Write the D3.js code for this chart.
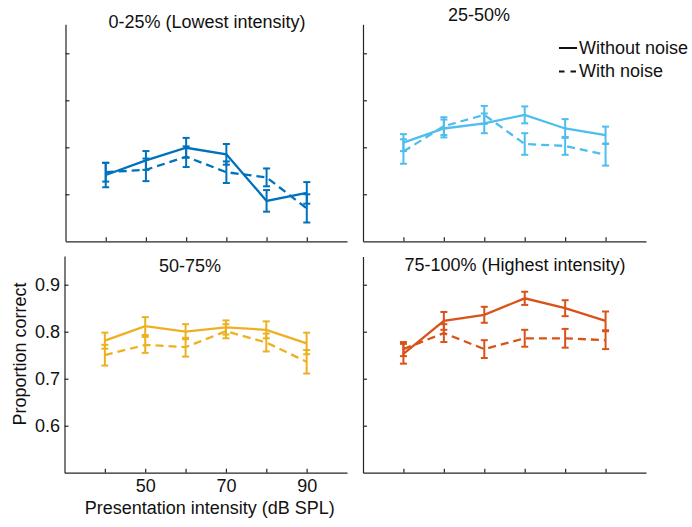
<!DOCTYPE html>
<html>
<head>
<meta charset="utf-8">
<script src="https://cdn.jsdelivr.net/npm/d3@7"></script>
<style>
  body { margin: 0; background: #fff; }
  text { font-family: "Liberation Sans", Arial, Helvetica, sans-serif; }
</style>
</head>
<body>
<svg id="chart" width="692" height="527"></svg>
<script>
// intensities (dB SPL) on the x axis
const intensities = [40, 50, 60, 70, 80, 90];
const xLabelTicks = [50, 70, 90];
const yTicks = [0.6, 0.7, 0.8, 0.9];

// quartile titles
const titles = ["0-25% (Lowest intensity)", "25-50%", "50-75%", "75-100% (Highest intensity)"];

// proportion correct, without noise / with noise, and error bars
const q1Without    = [0.641, 0.672, 0.699, 0.685, 0.586, 0.603];
const q1WithoutErr = [0.026, 0.020, 0.021, 0.022, 0.023, 0.023];
const q1With       = [0.647, 0.652, 0.680, 0.647, 0.636, 0.570];
const q1WithErr    = [0.020, 0.024, 0.022, 0.023, 0.019, 0.030];

const q2Without    = [0.710, 0.740, 0.751, 0.769, 0.740, 0.726];
const q2WithoutErr = [0.018, 0.019, 0.021, 0.018, 0.020, 0.018];
const q2With       = [0.691, 0.745, 0.769, 0.707, 0.703, 0.684];
const q2WithErr    = [0.026, 0.019, 0.019, 0.023, 0.019, 0.023];

const q3Without    = [0.781, 0.812, 0.800, 0.809, 0.804, 0.775];
const q3WithoutErr = [0.017, 0.019, 0.016, 0.015, 0.018, 0.023];
const q3With       = [0.750, 0.772, 0.767, 0.801, 0.777, 0.736];
const q3WithErr    = [0.022, 0.017, 0.020, 0.015, 0.019, 0.025];

const q4Without    = [0.753, 0.823, 0.836, 0.871, 0.850, 0.823];
const q4WithoutErr = [0.021, 0.019, 0.017, 0.014, 0.017, 0.020];
const q4With       = [0.763, 0.797, 0.763, 0.786, 0.786, 0.782];
const q4WithErr    = [0.015, 0.019, 0.019, 0.018, 0.020, 0.019];

const legendLabels = ["Without noise", "With noise"];

const colors = ["#0072BD", "#4DBEEE", "#EDB120", "#D95319"];
const axisColor = "#262626";
const fontSize = 18;

// panel layout (pixels)
const panels = [
  { left: 65.5, right: 347, top: 24.3, bottom: 241.3, titleX: 207, titleY: 28, labels: false,
    without: q1Without, withoutErr: q1WithoutErr, withN: q1With, withErr: q1WithErr },
  { left: 363, right: 646, top: 24.3, bottom: 241.3, titleX: 479, titleY: 20.5, labels: false, legend: true,
    without: q2Without, withoutErr: q2WithoutErr, withN: q2With, withErr: q2WithErr },
  { left: 64.5, right: 347, top: 256, bottom: 472.7, titleX: 190, titleY: 271.5, labels: true,
    without: q3Without, withoutErr: q3WithoutErr, withN: q3With, withErr: q3WithErr },
  { left: 363, right: 646, top: 256.5, bottom: 472.7, titleX: 515, titleY: 270.5, labels: false,
    without: q4Without, withoutErr: q4WithoutErr, withN: q4With, withErr: q4WithErr }
];

const svg = d3.select("#chart");

panels.forEach((p, i) => {
  let color = colors[i];
  let g = svg.append("g");

  let xScale = d3.scaleLinear().domain([30, 100]).range([p.left, p.right]);
  let yScale = d3.scaleLinear()
    .domain([0.5, 0.5 + (p.bottom - p.top) / 470])
    .range([p.bottom, p.top]);

  // axes, MATLAB style: ticks pointing in, no box
  let xAxis = d3.axisBottom(xScale)
    .tickValues(intensities)
    .tickSize(-4)
    .tickSizeOuter(0)
    .tickPadding(6.5)
    .tickFormat(d => p.labels && xLabelTicks.includes(d) ? d : "");

  let yAxis = d3.axisLeft(yScale)
    .tickValues(yTicks)
    .tickSize(-4)
    .tickSizeOuter(0)
    .tickPadding(4.5)
    .tickFormat(d => p.labels ? d3.format(".1f")(d) : "");

  let gx = g.append("g")
    .attr("transform", `translate(0,${p.bottom})`)
    .call(xAxis);
  let gy = g.append("g")
    .attr("transform", `translate(${p.left},0)`)
    .call(yAxis);

  [gx, gy].forEach(a => {
    a.attr("font-size", fontSize).attr("font-family", null);
    a.selectAll("path, line").attr("stroke", axisColor).attr("stroke-width", 1.2);
    a.selectAll("text").attr("fill", "#111");
  });

  // title
  g.append("text")
    .attr("x", p.titleX)
    .attr("y", p.titleY)
    .attr("text-anchor", "middle")
    .attr("font-size", fontSize)
    .attr("fill", "#111")
    .text(titles[i]);

  // series
  let series = [
    { values: p.without, errs: p.withoutErr, dash: null },
    { values: p.withN, errs: p.withErr, dash: "8,5" }
  ];

  let line = d3.line()
    .x(d => xScale(d.x))
    .y(d => yScale(d.v));

  series.forEach(s => {
    let pts = intensities.map((x, j) => ({ x: x, v: s.values[j], e: s.errs[j] }));

    // error bars
    let eb = g.append("g")
      .attr("stroke", color)
      .attr("stroke-width", 2);

    eb.selectAll(".bar")
      .data(pts)
      .enter()
      .append("line")
      .attr("x1", d => xScale(d.x))
      .attr("x2", d => xScale(d.x))
      .attr("y1", d => yScale(d.v - d.e))
      .attr("y2", d => yScale(d.v + d.e));

    eb.selectAll(".capTop")
      .data(pts)
      .enter()
      .append("line")
      .attr("x1", d => xScale(d.x) - 3.5)
      .attr("x2", d => xScale(d.x) + 3.5)
      .attr("y1", d => yScale(d.v + d.e))
      .attr("y2", d => yScale(d.v + d.e));

    eb.selectAll(".capBottom")
      .data(pts)
      .enter()
      .append("line")
      .attr("x1", d => xScale(d.x) - 3.5)
      .attr("x2", d => xScale(d.x) + 3.5)
      .attr("y1", d => yScale(d.v - d.e))
      .attr("y2", d => yScale(d.v - d.e));

    g.append("path")
      .datum(pts)
      .attr("d", line)
      .attr("fill", "none")
      .attr("stroke", color)
      .attr("stroke-width", 2.3)
      .attr("stroke-dasharray", s.dash);
  });

  // legend (no box)
  if (p.legend) {
    let lg = svg.append("g");
    let rows = [{ label: legendLabels[0], dash: null, y: 48 }, { label: legendLabels[1], dash: "5.5,6", y: 71.5 }];
    rows.forEach(r => {
      lg.append("line")
        .attr("x1", 559).attr("x2", 577)
        .attr("y1", r.y).attr("y2", r.y)
        .attr("stroke", "#111")
        .attr("stroke-width", 2)
        .attr("stroke-dasharray", r.dash);
      lg.append("text")
        .attr("x", 579)
        .attr("y", r.y + 5.5)
        .attr("font-size", fontSize)
        .attr("fill", "#111")
        .text(r.label);
    });
  }

  // axis labels on the bottom-left panel only
  if (p.labels) {
    svg.append("text")
      .attr("x", (p.left + p.right) / 2 + 4)
      .attr("y", 514)
      .attr("text-anchor", "middle")
      .attr("font-size", fontSize)
      .attr("fill", "#111")
      .text("Presentation intensity (dB SPL)");

    svg.append("text")
      .attr("transform", `translate(26,${354}) rotate(-90)`)
      .attr("text-anchor", "middle")
      .attr("font-size", fontSize)
      .attr("fill", "#111")
      .text("Proportion correct");
  }
});
</script>
</body>
</html>
